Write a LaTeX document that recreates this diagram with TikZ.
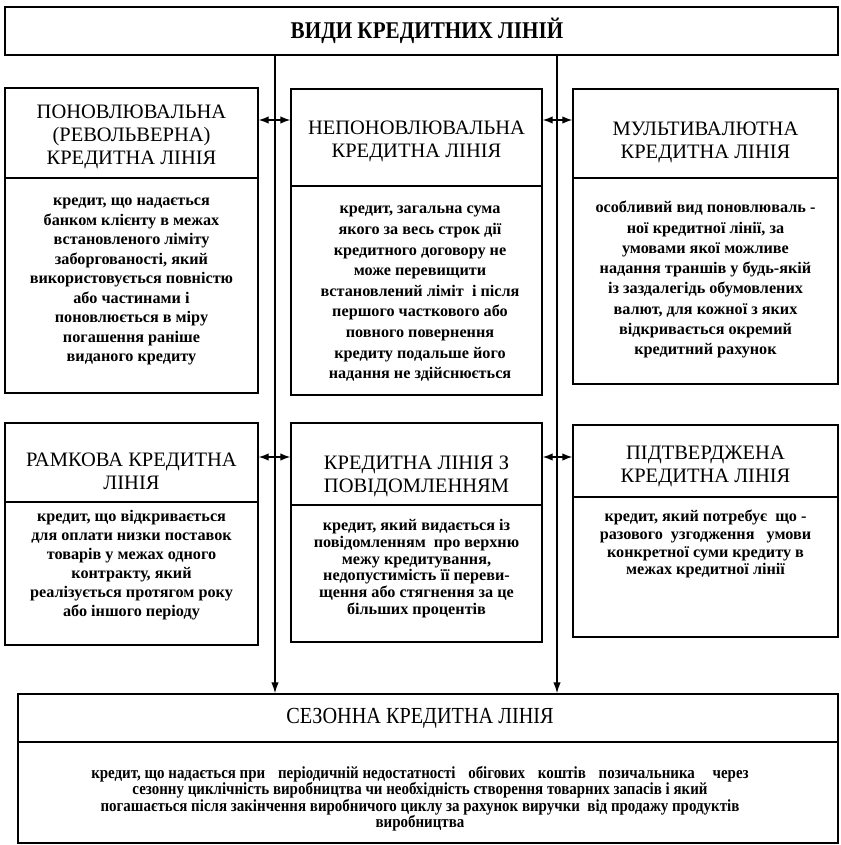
\documentclass[tikz,border=0pt]{standalone}
\usepackage{fontspec}
\setmainfont{Liberation Serif}
\newfontfamily\condfont[FakeStretch=0.88]{Liberation Serif}
\usetikzlibrary{arrows.meta}
\begin{document}
\begin{tikzpicture}[x=1pt,y=-1pt,
  frame/.style={draw, line width=1.4pt, inner sep=0pt},
  ttl/.style={align=center, font=\fontsize{20.5}{23}\selectfont, inner sep=0pt},
  bodytext/.style={align=center, font=\fontsize{16.2}{19.5}\selectfont\bfseries, inner sep=0pt, anchor=north},
  conn/.style={line width=1.4pt},
  dtip/.style={{Latex[length=10pt,width=7.5pt]}-{Latex[length=10pt,width=7.5pt]}},
  stip/.style={-{Latex[length=11pt,width=7.5pt]}},
]
\useasboundingbox (0,0) rectangle (840,845);

% boxes
\node[frame, minimum width=833pt, minimum height=48pt] (top) at (421.5,31) {};
\node[font=\condfont\fontsize{24}{26}\selectfont\bfseries] (toptitle) at (427,31) {ВИДИ КРЕДИТНИХ ЛІНІЙ};

\node[frame, minimum width=253pt, minimum height=305pt] (b1) at (131.5,240.5) {};
\node[frame, minimum width=251pt, minimum height=306pt] (b2) at (416.5,242) {};
\node[frame, minimum width=265pt, minimum height=295pt] (b3) at (705.5,236.5) {};
\node[frame, minimum width=253pt, minimum height=222pt] (b4) at (131.5,534) {};
\node[frame, minimum width=251pt, minimum height=219pt] (b5) at (416.5,532.5) {};
\node[frame, minimum width=265pt, minimum height=212pt] (b6) at (705.5,531) {};
\node[frame, minimum width=820pt, minimum height=149pt] (b7) at (428,768.5) {};

% dividers
\draw[conn] (5,178) -- (258,178);
\draw[conn] (291,186) -- (542,186);
\draw[conn] (573,178) -- (838,178);
\draw[conn] (5,502) -- (258,502);
\draw[conn] (291,505) -- (542,505);
\draw[conn] (573,497) -- (838,497);
\draw[conn] (18,742) -- (838,742);

% titles
\node[ttl] (t1) at (131.5,137) {ПОНОВЛЮВАЛЬНА\\(РЕВОЛЬВЕРНА)\\КРЕДИТНА ЛІНІЯ};
\node[ttl] (t2) at (416.5,141) {НЕПОНОВЛЮВАЛЬНА\\КРЕДИТНА ЛІНІЯ};
\node[ttl] (t3) at (705.5,142) {МУЛЬТИВАЛЮТНА\\КРЕДИТНА ЛІНІЯ};
\node[ttl] (t4) at (131.5,471) {РАМКОВА КРЕДИТНА\\ЛІНІЯ};
\node[ttl] (t5) at (416.5,476) {КРЕДИТНА ЛІНІЯ З\\ПОВІДОМЛЕННЯМ};
\node[ttl] (t6) at (705.5,466) {ПІДТВЕРДЖЕНА\\КРЕДИТНА ЛІНІЯ};
\node[ttl, font=\condfont\fontsize{23}{25}\selectfont] (t7) at (420,718) {СЕЗОННА КРЕДИТНА ЛІНІЯ};

% bodies
\node[bodytext] (d1) at (131.5,198) {кредит, що надається\\банком клієнту в межах\\встановленого ліміту\\заборгованості, який\\використовується повністю\\або частинами і\\поновлюється в міру\\погашення раніше\\виданого кредиту};
\node[bodytext, font=\fontsize{16.2}{20.6}\selectfont\bfseries] (d2) at (420,206) {кредит, загальна сума\\якого за весь строк дії\\кредитного договору не\\може перевищити\\встановлений ліміт \ і після\\першого часткового або\\повного повернення\\кредиту подальше його\\надання не здійснюється};
\node[bodytext, font=\fontsize{16.2}{20.3}\selectfont\bfseries] (d3) at (705.5,201) {особливий вид поновлюваль -\\ної кредитної лінії, за\\умовами якої можливе\\надання траншів у будь-якій\\із заздалегідь обумовлених\\валют, для кожної з яких\\відкривається окремий\\кредитний рахунок};
\node[bodytext, font=\fontsize{16.2}{19}\selectfont\bfseries] (d4) at (131.5,510) {кредит, що відкривається\\для оплати низки поставок\\товарів у межах одного\\контракту, який\\реалізується протягом року\\або іншого періоду};
\node[bodytext, font=\fontsize{16.2}{16.8}\selectfont\bfseries] (d5) at (416.5,519) {кредит, який видається із\\повідомленням \ про верхню\\межу кредитування,\\недопустимість її переви-\\щення або стягнення за це\\більших процентів};
\node[bodytext, font=\fontsize{16.2}{17.7}\selectfont\bfseries] (d6) at (705.5,510) {кредит, який потребує \ що -\\разового \ узгодження \ \ умови\\конкретної суми кредиту в\\межах кредитної лінії};
\node[bodytext, font=\condfont\fontsize{17}{16.5}\selectfont\bfseries] (d7) at (420,766) {кредит, що надається при\hspace*{9pt} періодичній недостатності\hspace*{9pt} обігових\hspace*{9pt} коштів\hspace*{9pt} позичальника\hspace*{14pt} через\\сезонну циклічність виробництва чи необхідність створення товарних запасів і який\\погашається після закінчення виробничого циклу за рахунок виручки \ від продажу продуктів\\виробництва};

% connectors
\coordinate (L) at (275,0);
\coordinate (R) at (557,0);
\coordinate (A1) at (0,120);
\coordinate (A2) at (0,457);
\draw[conn, stip] (top.south -| L) -- (b7.north -| L);
\draw[conn, stip] (top.south -| R) -- (b7.north -| R);
\draw[conn, dtip] (b1.east |- A1) -- (b2.west |- A1);
\draw[conn, dtip] (b2.east |- A1) -- (b3.west |- A1);
\draw[conn, dtip] (b4.east |- A2) -- (b5.west |- A2);
\draw[conn, dtip] (b5.east |- A2) -- (b6.west |- A2);
\end{tikzpicture}
\end{document}
